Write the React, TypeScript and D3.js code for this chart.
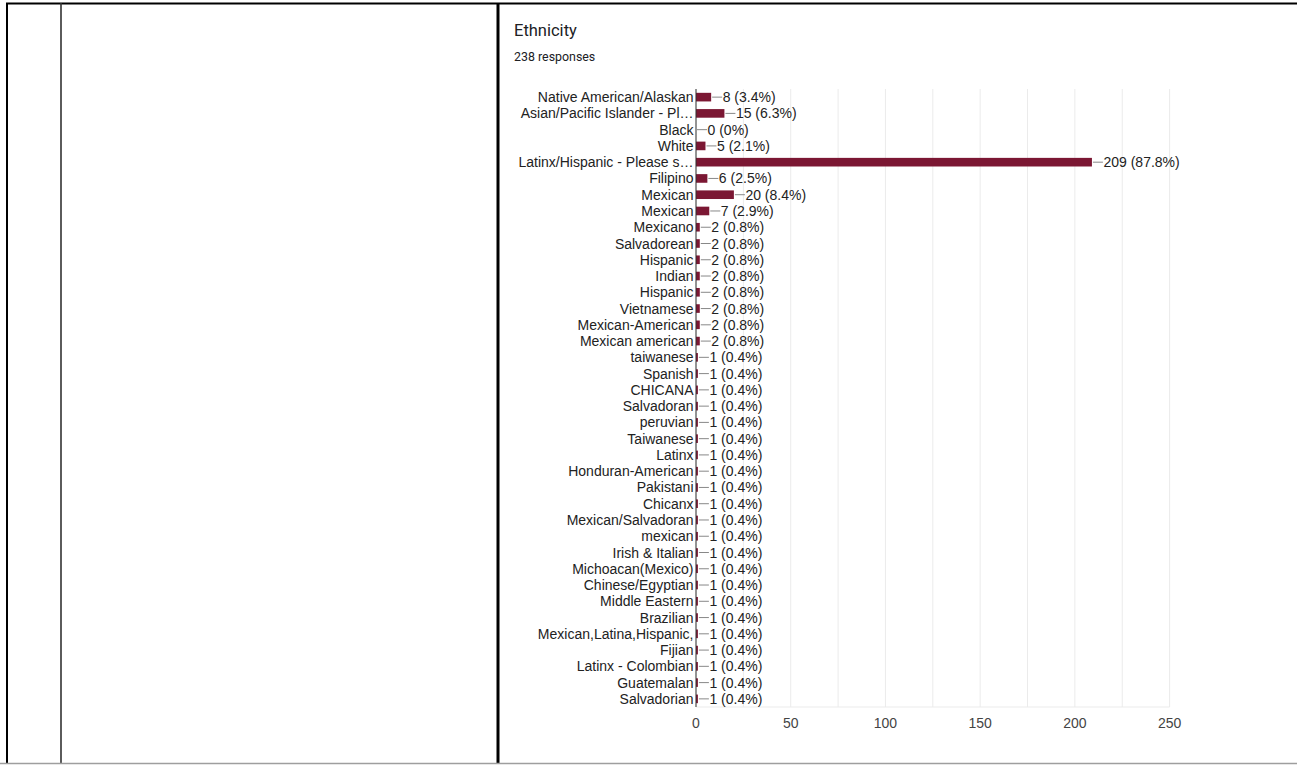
import React from "react";
import * as d3 from "d3";

const title = "Ethnicity";
const totalResponses = 238;
const categories = [
  "Native American/Alaskan",
  "Asian/Pacific Islander - Pl…",
  "Black",
  "White",
  "Latinx/Hispanic - Please s…",
  "Filipino",
  "Mexican",
  "Mexican",
  "Mexicano",
  "Salvadorean",
  "Hispanic",
  "Indian",
  "Hispanic",
  "Vietnamese",
  "Mexican-American",
  "Mexican american",
  "taiwanese",
  "Spanish",
  "CHICANA",
  "Salvadoran",
  "peruvian",
  "Taiwanese",
  "Latinx",
  "Honduran-American",
  "Pakistani",
  "Chicanx",
  "Mexican/Salvadoran",
  "mexican",
  "Irish & Italian",
  "Michoacan(Mexico)",
  "Chinese/Egyptian",
  "Middle Eastern",
  "Brazilian",
  "Mexican,Latina,Hispanic,",
  "Fijian",
  "Latinx - Colombian",
  "Guatemalan",
  "Salvadorian",
];
const counts = [
  8, 15, 0, 5, 209, 6, 20, 7, 2, 2, 2, 2, 2, 2, 2, 2, 1, 1, 1, 1, 1, 1, 1, 1, 1,
  1, 1, 1, 1, 1, 1, 1, 1, 1, 1, 1, 1, 1,
];
const xTicks = [0, 50, 100, 150, 200, 250];
const xGrid = [0, 25, 50, 75, 100, 125, 150, 175, 200, 225, 250];

const W = 1297;
const H = 765;
const plotLeft = 696;
const plotRight = 1169.6;
const plotTop = 89;
const plotBottom = 707;
const barColor = "#7b1733";
const labelFont = "'Liberation Sans', Arial, sans-serif";

function pct(v: number) {
  if (v === 0) return "0%";
  return ((v / totalResponses) * 100).toFixed(1) + "%";
}

export default function App() {
  const x = d3.scaleLinear().domain([0, 250]).range([plotLeft, plotRight]);
  const idx = categories.map((_, i) => String(i));
  const y = d3.scaleBand().domain(idx).range([plotTop, plotBottom]).paddingInner(0.47).paddingOuter(0.235);
  const bh = y.bandwidth();

  return (
    <div style={{ position: "fixed", left: 0, top: 0, width: W, height: H, background: "#fff" }}>
      <svg width={W} height={H} style={{ display: "block" }}>
        <rect x={0} y={0} width={W} height={H} fill="#fff" />
        {/* frame lines */}
        <line x1={6} x2={W} y1={3.5} y2={3.5} stroke="#000" strokeWidth={2} />
        <line x1={7} x2={7} y1={3} y2={763} stroke="#000" strokeWidth={2} />
        <line x1={61} x2={61} y1={3} y2={763} stroke="#333" strokeWidth={1.6} />
        <line x1={498} x2={498} y1={3} y2={763} stroke="#000" strokeWidth={3} />
        <line x1={0} x2={W} y1={763.5} y2={763.5} stroke="#9e9e9e" strokeWidth={1.5} />

        <text x={514} y={36} fontFamily="Roboto, 'Open Sans', sans-serif" fontSize={16.5} fill="#202124">
          {title}
        </text>
        <text x={514} y={61} fontFamily="Roboto, 'Open Sans', sans-serif" fontSize={12.4} fill="#202124">
          {totalResponses} responses
        </text>

        {/* gridlines */}
        {xGrid.map((t) => (
          <line key={"g" + t} x1={x(t)} x2={x(t)} y1={plotTop} y2={plotBottom} stroke="#ebebeb" strokeWidth={1} />
        ))}
        <line x1={plotLeft} x2={plotRight} y1={plotBottom} y2={plotBottom} stroke="#ebebeb" strokeWidth={1} />

        {/* bars */}
        {counts.map((v, i) => {
          const yc = (y(String(i)) as number) + bh / 2;
          const x1 = x(v);
          return (
            <g key={"b" + i}>
              {v > 0 && (
                <rect x={x(0)} y={yc - bh / 2} width={Math.max(x1 - x(0), 1.5)} height={bh} fill={barColor} />
              )}
              <line x1={x1 + 1} x2={x1 + 11} y1={yc} y2={yc} stroke="#888" strokeWidth={1} />
              <text x={x1 + 11.5} y={yc} dy="0.36em" fontFamily={labelFont} fontSize={14} fill="#222">
                {v} ({pct(v)})
              </text>
              <text x={plotLeft - 2.5} y={yc} dy="0.36em" textAnchor="end" fontFamily={labelFont} fontSize={14} fill="#222">
                {categories[i]}
              </text>
            </g>
          );
        })}

        {/* axis line */}
        <line x1={plotLeft} x2={plotLeft} y1={plotTop} y2={plotBottom} stroke="#333" strokeWidth={1} />

        {xTicks.map((t) => (
          <text key={"t" + t} x={x(t)} y={728} textAnchor="middle" fontFamily={labelFont} fontSize={14} fill="#444">
            {t}
          </text>
        ))}
      </svg>
    </div>
  );
}
